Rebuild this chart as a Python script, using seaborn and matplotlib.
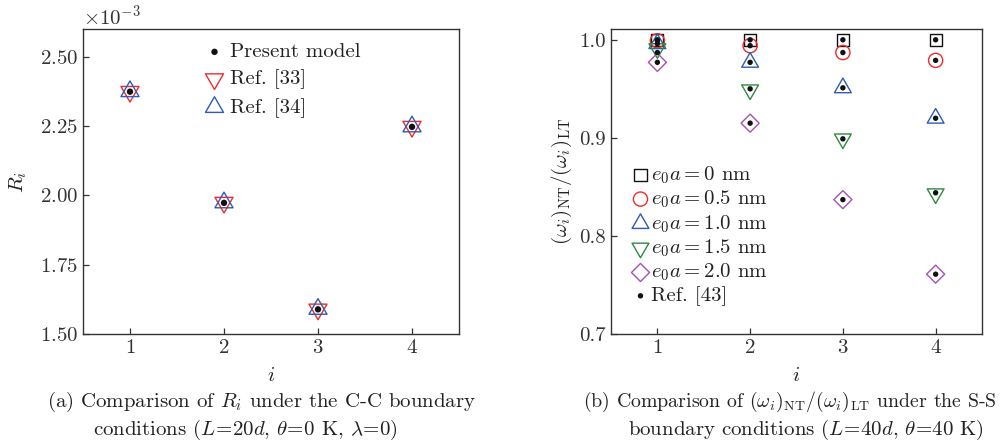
import numpy as np
import matplotlib
matplotlib.use("Agg")
import matplotlib.pyplot as plt
import seaborn as sns
from matplotlib.ticker import ScalarFormatter
from matplotlib.path import Path

# ---------------- data ----------------
modes = [1, 2, 3, 4]
# (a) R_i under C-C boundary conditions
r_present = [2.374e-3, 1.973e-3, 1.589e-3, 2.247e-3]
r_ref33 = [2.374e-3, 1.974e-3, 1.589e-3, 2.248e-3]
r_ref34 = [2.375e-3, 1.974e-3, 1.590e-3, 2.248e-3]

# (b) (omega_i)_NT / (omega_i)_LT under S-S boundary conditions
ratio_e00 = [1.000, 1.000, 1.000, 1.000]
ratio_e05 = [0.999, 0.994, 0.987, 0.979]
ratio_e10 = [0.996, 0.977, 0.951, 0.920]
ratio_e15 = [0.991, 0.949, 0.899, 0.843]
ratio_e20 = [0.977, 0.915, 0.837, 0.761]
ref43_x = [1, 1, 1, 1, 1, 2, 2, 2, 2, 2, 3, 3, 3, 3, 3, 4, 4, 4, 4, 4]
ref43_y = [1.000, 0.999, 0.996, 0.987, 0.977,
           1.000, 0.994, 0.977, 0.950, 0.915,
           1.000, 0.987, 0.951, 0.899, 0.837,
           1.000, 0.979, 0.920, 0.844, 0.761]
legend_b = [r"$e_0a=0$ nm", r"$e_0a=0.5$ nm", r"$e_0a=1.0$ nm",
            r"$e_0a=1.5$ nm", r"$e_0a=2.0$ nm", "Ref. [43]"]
legend_a = ["Present model", "Ref. [33]", "Ref. [34]"]

# ---------------- style ----------------
sns.set_theme(style="ticks")
plt.rcParams["font.family"] = ["cmr10", "DejaVu Serif"]
plt.rcParams["mathtext.fontset"] = "cm"
plt.rcParams["axes.formatter.use_mathtext"] = True
plt.rcParams["axes.unicode_minus"] = False
AX = "#333333"
FS = 15
plt.rcParams.update({
    "axes.edgecolor": AX, "axes.linewidth": 1.0,
    "xtick.color": AX, "ytick.color": AX,
    "xtick.direction": "in", "ytick.direction": "in",
    "xtick.major.size": 4, "ytick.major.size": 4,
    "xtick.major.width": 0.9, "ytick.major.width": 0.9,
    "xtick.labelsize": FS, "ytick.labelsize": FS,
    "axes.labelsize": FS, "text.color": "#222222",
    "axes.labelcolor": "#222222",
})

RED = "#ee2b2b"
BLUE = "#2c5cb5"
GREEN = "#2e8a3e"
PURPLE = "#a452b3"

# equilateral triangles centred on their centroid (so up + down form a star)
c30, s30 = np.cos(np.pi / 6), 0.5
TRI_UP = Path([(0, 1), (-c30, -s30), (c30, -s30), (0, 1)],
              [Path.MOVETO, Path.LINETO, Path.LINETO, Path.CLOSEPOLY])
TRI_DN = Path([(0, -1), (-c30, s30), (c30, s30), (0, -1)],
              [Path.MOVETO, Path.LINETO, Path.LINETO, Path.CLOSEPOLY])

fig = plt.figure(figsize=(10.05, 4.48), dpi=100)
axA = fig.add_axes([83 / 1005, 1 - 334 / 448, 376 / 1005, 305 / 448])
axB = fig.add_axes([611 / 1005, 1 - 334 / 448, 371 / 1005, 305 / 448])

def hollow(ax, x, y, marker, ms, color, label, lw=1.0, z=2):
    sns.scatterplot(x=x, y=y, marker=marker, s=ms ** 2, facecolors="none",
                    edgecolors=color, linewidths=lw, label=label, ax=ax,
                    zorder=z, legend=False)

def dots(ax, x, y, ms, label, z=5):
    sns.scatterplot(x=x, y=y, marker="o", s=ms ** 2, color="#111111",
                    edgecolor="none", label=label, ax=ax, zorder=z, legend=False)

# ---- (a) ----
dots(axA, modes, r_present, 4.6, legend_a[0])
hollow(axA, modes, r_ref33, TRI_DN, 15.0, RED, legend_a[1])
hollow(axA, modes, r_ref34, TRI_UP, 15.0, BLUE, legend_a[2])
axA.set_xlim(0.5, 4.5)
axA.set_ylim(1.5e-3, 2.6e-3)
axA.set_xticks(modes)
axA.set_yticks([1.5e-3, 1.75e-3, 2.0e-3, 2.25e-3, 2.5e-3])
fmt = ScalarFormatter(useMathText=True)
fmt.set_powerlimits((-2, 2))
axA.yaxis.set_major_formatter(fmt)
axA.yaxis.get_offset_text().set_fontsize(FS)
axA.set_xlabel(r"$i$", labelpad=7)
axA.set_ylabel(r"$R_i$", labelpad=8)
axA.legend(loc="upper left", bbox_to_anchor=(0.322, 0.955), frameon=False,
           fontsize=FS, handlelength=1.0, handletextpad=0.25,
           labelspacing=0.4, borderpad=0, borderaxespad=0)

# ---- (b) ----
hollow(axB, modes, ratio_e00, "s", 8.8, "#111111", legend_b[0])
hollow(axB, modes, ratio_e05, "o", 10.2, RED, legend_b[1])
hollow(axB, modes, ratio_e10, TRI_UP, 14.0, BLUE, legend_b[2])
hollow(axB, modes, ratio_e15, TRI_DN, 14.0, GREEN, legend_b[3])
hollow(axB, modes, ratio_e20, "D", 9.2, PURPLE, legend_b[4])
dots(axB, ref43_x, ref43_y, 3.9, legend_b[5])
axB.set_xlim(0.5, 4.5)
axB.set_ylim(0.7, 1.011)
axB.set_xticks(modes)
axB.set_yticks([0.7, 0.8, 0.9, 1.0])
axB.set_yticklabels(["0.7", "0.8", "0.9", "1.0"])
axB.set_xlabel(r"$i$", labelpad=7)
axB.set_ylabel(r"$(\omega_i)_{\mathrm{NT}}/(\omega_i)_{\mathrm{LT}}$", labelpad=4)
axB.legend(loc="upper left", bbox_to_anchor=(0.057, 0.557), frameon=False,
           fontsize=FS, handlelength=0.8, handletextpad=0.12,
           labelspacing=0.14, borderpad=0, borderaxespad=0)

for ax in (axA, axB):
    ax.tick_params(top=False, right=False)
    for s in ax.spines.values():
        s.set_visible(True)

# ---- captions ----
cap = dict(fontsize=FS, ha="left", va="center", color="#222222")
fig.text(47 / 1005, 1 - 402 / 448,
         r"(a) Comparison of $R_i$ under the C-C boundary", **cap)
fig.text(93 / 1005, 1 - 430 / 448,
         r"conditions ($L\!=\!20d$, $\theta\!=\!0$ K, $\lambda\!=\!0$)", **cap)
capb = dict(cap)
capb["fontsize"] = 14.3
fig.text(583 / 1005, 1 - 402 / 448,
         r"(b) Comparison of $(\omega_i)_{\mathrm{NT}}/(\omega_i)_{\mathrm{LT}}$ under the S-S",
         **capb)
fig.text(628 / 1005, 1 - 430 / 448,
         r"boundary conditions ($L\!=\!40d$, $\theta\!=\!40$ K)", **cap)

fig.savefig("out.png", dpi=100)
